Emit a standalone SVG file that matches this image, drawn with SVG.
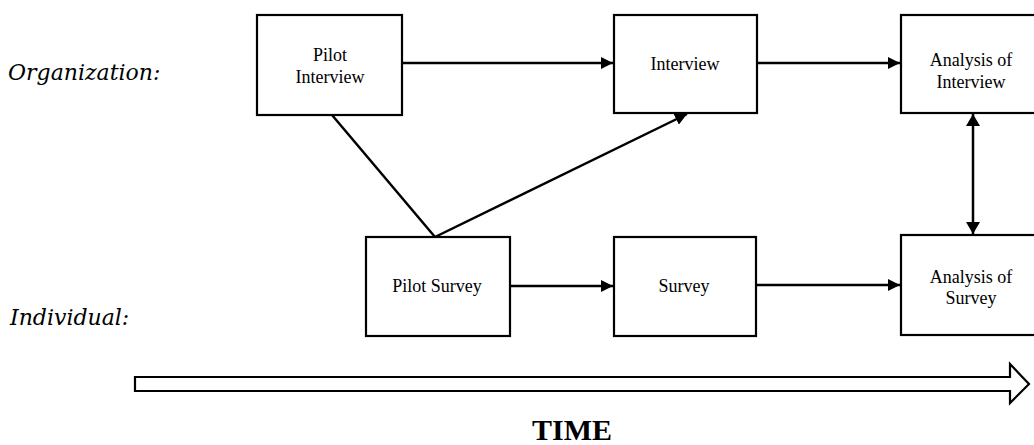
<svg xmlns="http://www.w3.org/2000/svg" width="1034" height="445" viewBox="0 0 1034 445">
<style>
.box{fill:#fff;stroke:#000;stroke-width:2.2}
.bt{font-family:"Liberation Serif",serif;font-size:18px;fill:#000;text-anchor:middle}
.lab{font-family:"DejaVu Serif",serif;font-style:italic;font-size:22px;fill:#000}
.ln{stroke:#000;stroke-width:2.5;fill:none}
</style>
<defs>
<marker id="ah" viewBox="0 0 12 12" refX="12" refY="6" markerWidth="12" markerHeight="12" markerUnits="userSpaceOnUse" orient="auto-start-reverse">
<path d="M0,0 L12,6 L0,12 z" fill="#000"/>
</marker>
<marker id="av" viewBox="0 0 12 14" refX="12" refY="7" markerWidth="12" markerHeight="14" markerUnits="userSpaceOnUse" orient="auto-start-reverse">
<path d="M0,0 L12,7 L0,14 z" fill="#000"/>
</marker>
</defs>
<rect width="1034" height="445" fill="#fff"/>
<text class="lab" x="8" y="80">Organization:</text>
<text class="lab" x="10" y="325">Individual:</text>
<g id="pilot-interview"><rect class="box" x="257" y="15" width="145" height="100"/><text class="bt" x="330" y="61">Pilot</text><text class="bt" x="330" y="83">Interview</text></g>
<g id="interview"><rect class="box" x="614" y="15" width="143" height="98"/><text class="bt" x="685" y="70">Interview</text></g>
<g id="analysis-interview"><rect class="box" x="901" y="15" width="145" height="98"/><text class="bt" x="971" y="66">Analysis of</text><text class="bt" x="971" y="88">Interview</text></g>
<g id="pilot-survey"><rect class="box" x="366" y="237" width="144" height="99"/><text class="bt" x="437" y="292">Pilot Survey</text></g>
<g id="survey"><rect class="box" x="614" y="237" width="142" height="99"/><text class="bt" x="684" y="292">Survey</text></g>
<g id="analysis-survey"><rect class="box" x="901" y="235" width="145" height="100"/><text class="bt" x="971" y="283">Analysis of</text><text class="bt" x="971" y="304">Survey</text></g>
<g id="connectors">
<line class="ln" x1="402" y1="63" x2="613" y2="63" marker-end="url(#ah)"/>
<line class="ln" x1="757" y1="63" x2="900" y2="63" marker-end="url(#ah)"/>
<line class="ln" x1="510" y1="286" x2="613" y2="286" marker-end="url(#ah)"/>
<line class="ln" x1="756" y1="285" x2="900" y2="285" marker-end="url(#ah)"/>
<line class="ln" x1="332" y1="115" x2="435" y2="237"/>
<line class="ln" x1="435" y1="237" x2="687" y2="114" marker-end="url(#ah)"/>
<line class="ln" x1="973" y1="114" x2="973" y2="234" marker-start="url(#av)" marker-end="url(#av)"/>
</g>
<g id="time">
<path d="M135,377 L1010,377 L1010,364 L1029,384 L1010,403 L1010,391 L135,391 Z" fill="#fff" stroke="#000" stroke-width="2.2" stroke-linejoin="miter"/>
<text x="572" y="440" font-family="'Liberation Serif',serif" font-weight="bold" font-size="30" text-anchor="middle">TIME</text>
</g>
</svg>
